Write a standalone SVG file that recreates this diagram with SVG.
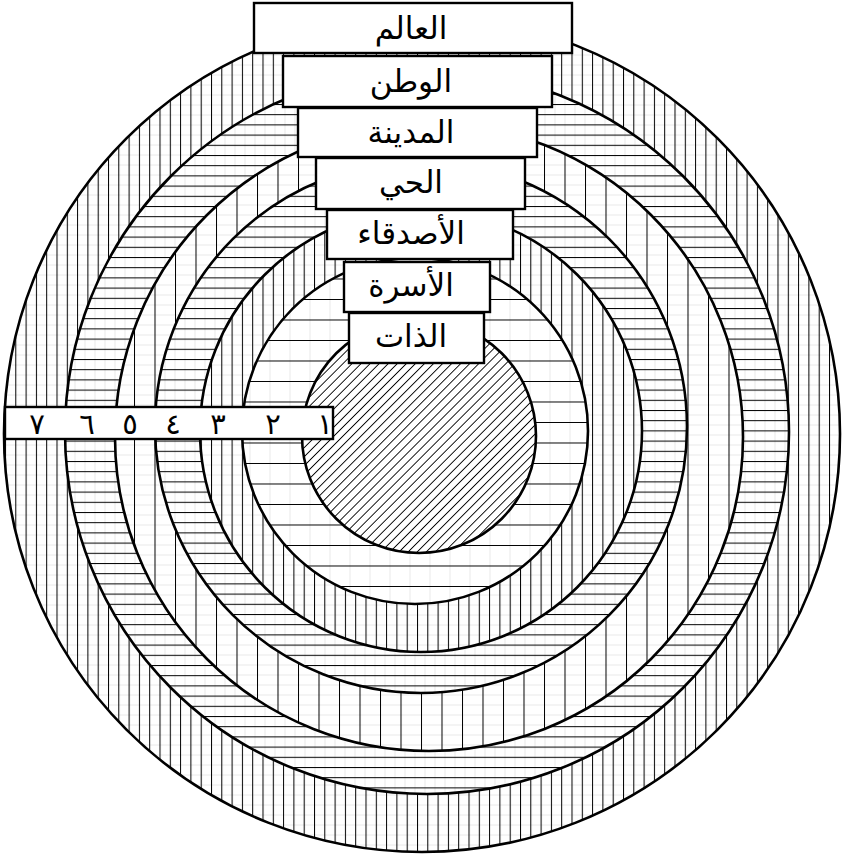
<svg xmlns="http://www.w3.org/2000/svg" width="843" height="857" viewBox="0 0 843 857">
<style>
.ring{stroke:#000;stroke-width:2.6}
.box{fill:#fff;stroke:#000;stroke-width:2.4}
.lbl{font-family:'DejaVu Sans','Noto Sans',sans-serif;font-size:31px;fill:#000;text-anchor:middle}
.num{font-family:'DejaVu Sans','Noto Sans',sans-serif;font-size:29px;fill:#000;text-anchor:middle}
</style>
<defs>
<pattern id="v10" patternUnits="userSpaceOnUse" x="5" y="0" width="10.3" height="10">
<rect width="10.3" height="10" fill="#fff"/>
<line x1="0" y1="5" x2="10.3" y2="5" stroke="#d4d4d4" stroke-width="0.5"/>
<line x1="0" y1="0" x2="0" y2="10" stroke="#000" stroke-width="2"/>
</pattern>
<pattern id="v20" patternUnits="userSpaceOnUse" x="11" y="0" width="20.5" height="10">
<rect width="20.5" height="10" fill="#fff"/>
<line x1="0" y1="5" x2="20.5" y2="5" stroke="#d4d4d4" stroke-width="0.5"/>
<line x1="0" y1="0" x2="0" y2="10" stroke="#000" stroke-width="2"/>
</pattern>
<pattern id="h10" patternUnits="userSpaceOnUse" x="0" y="2" width="10" height="10.2">
<rect width="10" height="10.2" fill="#fff"/>
<line x1="5" y1="0" x2="5" y2="10.2" stroke="#d4d4d4" stroke-width="0.5"/>
<line x1="0" y1="0" x2="10" y2="0" stroke="#000" stroke-width="2"/>
</pattern>
<pattern id="h20" patternUnits="userSpaceOnUse" x="0" y="12" width="20" height="20.5">
<rect width="20" height="20.5" fill="#fff"/>
<line x1="10" y1="0" x2="10" y2="20.5" stroke="#d4d4d4" stroke-width="0.5"/>
<line x1="0" y1="0" x2="20" y2="0" stroke="#000" stroke-width="2"/>
</pattern>
<pattern id="diag" patternUnits="userSpaceOnUse" width="6.4" height="6.4" patternTransform="rotate(45)">
<rect width="6.4" height="6.4" fill="#fff"/>
<line x1="0" y1="0" x2="0" y2="6.4" stroke="#000" stroke-width="1.8"/>
</pattern>
</defs>
<rect width="843" height="857" fill="#fff"/>
<g id="rings">
<circle id="ring7" class="ring" cx="422" cy="434" r="418" fill="url(#v10)"/>
<circle id="ring6" class="ring" cx="427" cy="432" r="362" fill="url(#h10)"/>
<circle id="ring5" class="ring" cx="429" cy="437" r="314" fill="url(#v20)"/>
<circle id="ring4" class="ring" cx="421" cy="427" r="266" fill="url(#h10)"/>
<circle id="ring3" class="ring" cx="421" cy="431" r="221" fill="url(#v10)"/>
<circle id="ring2" class="ring" cx="415" cy="431" r="173" fill="url(#h20)"/>
<circle id="ring1" class="ring" cx="419" cy="436" r="117" fill="url(#diag)"/>
</g>
<g id="connectors"/>
<g id="label-world"><rect class="box" x="254" y="3" width="318" height="50"/><text class="lbl" x="411" y="39">العالم</text></g>
<g id="label-homeland"><rect class="box" x="283" y="56" width="269" height="51"/><text class="lbl" x="411" y="92">الوطن</text></g>
<g id="label-city"><rect class="box" x="298" y="108" width="239" height="49"/><text class="lbl" x="411" y="143">المدينة</text></g>
<g id="label-district"><rect class="box" x="316" y="158" width="209" height="51"/><text class="lbl" x="411" y="193">الحي</text></g>
<g id="label-friends"><rect class="box" x="327" y="210" width="186" height="49"/><text class="lbl" x="411" y="244">الأصدقاء</text></g>
<g id="label-family"><rect class="box" x="344" y="262" width="146" height="50"/><text class="lbl" x="411" y="296">الأسرة</text></g>
<g id="label-self"><rect class="box" x="349" y="313" width="135" height="50"/><text class="lbl" x="411" y="347">الذات</text></g>
<g id="number-strip">
<rect class="box" x="5" y="407" width="328" height="32"/>
<text class="num" x="37" y="434">٧</text>
<text class="num" x="87" y="434">٦</text>
<text class="num" x="130" y="434">٥</text>
<text class="num" x="173" y="434">٤</text>
<text class="num" x="218" y="434">٣</text>
<text class="num" x="273" y="434">٢</text>
<text class="num" x="325" y="434">١</text>
</g>
</svg>
